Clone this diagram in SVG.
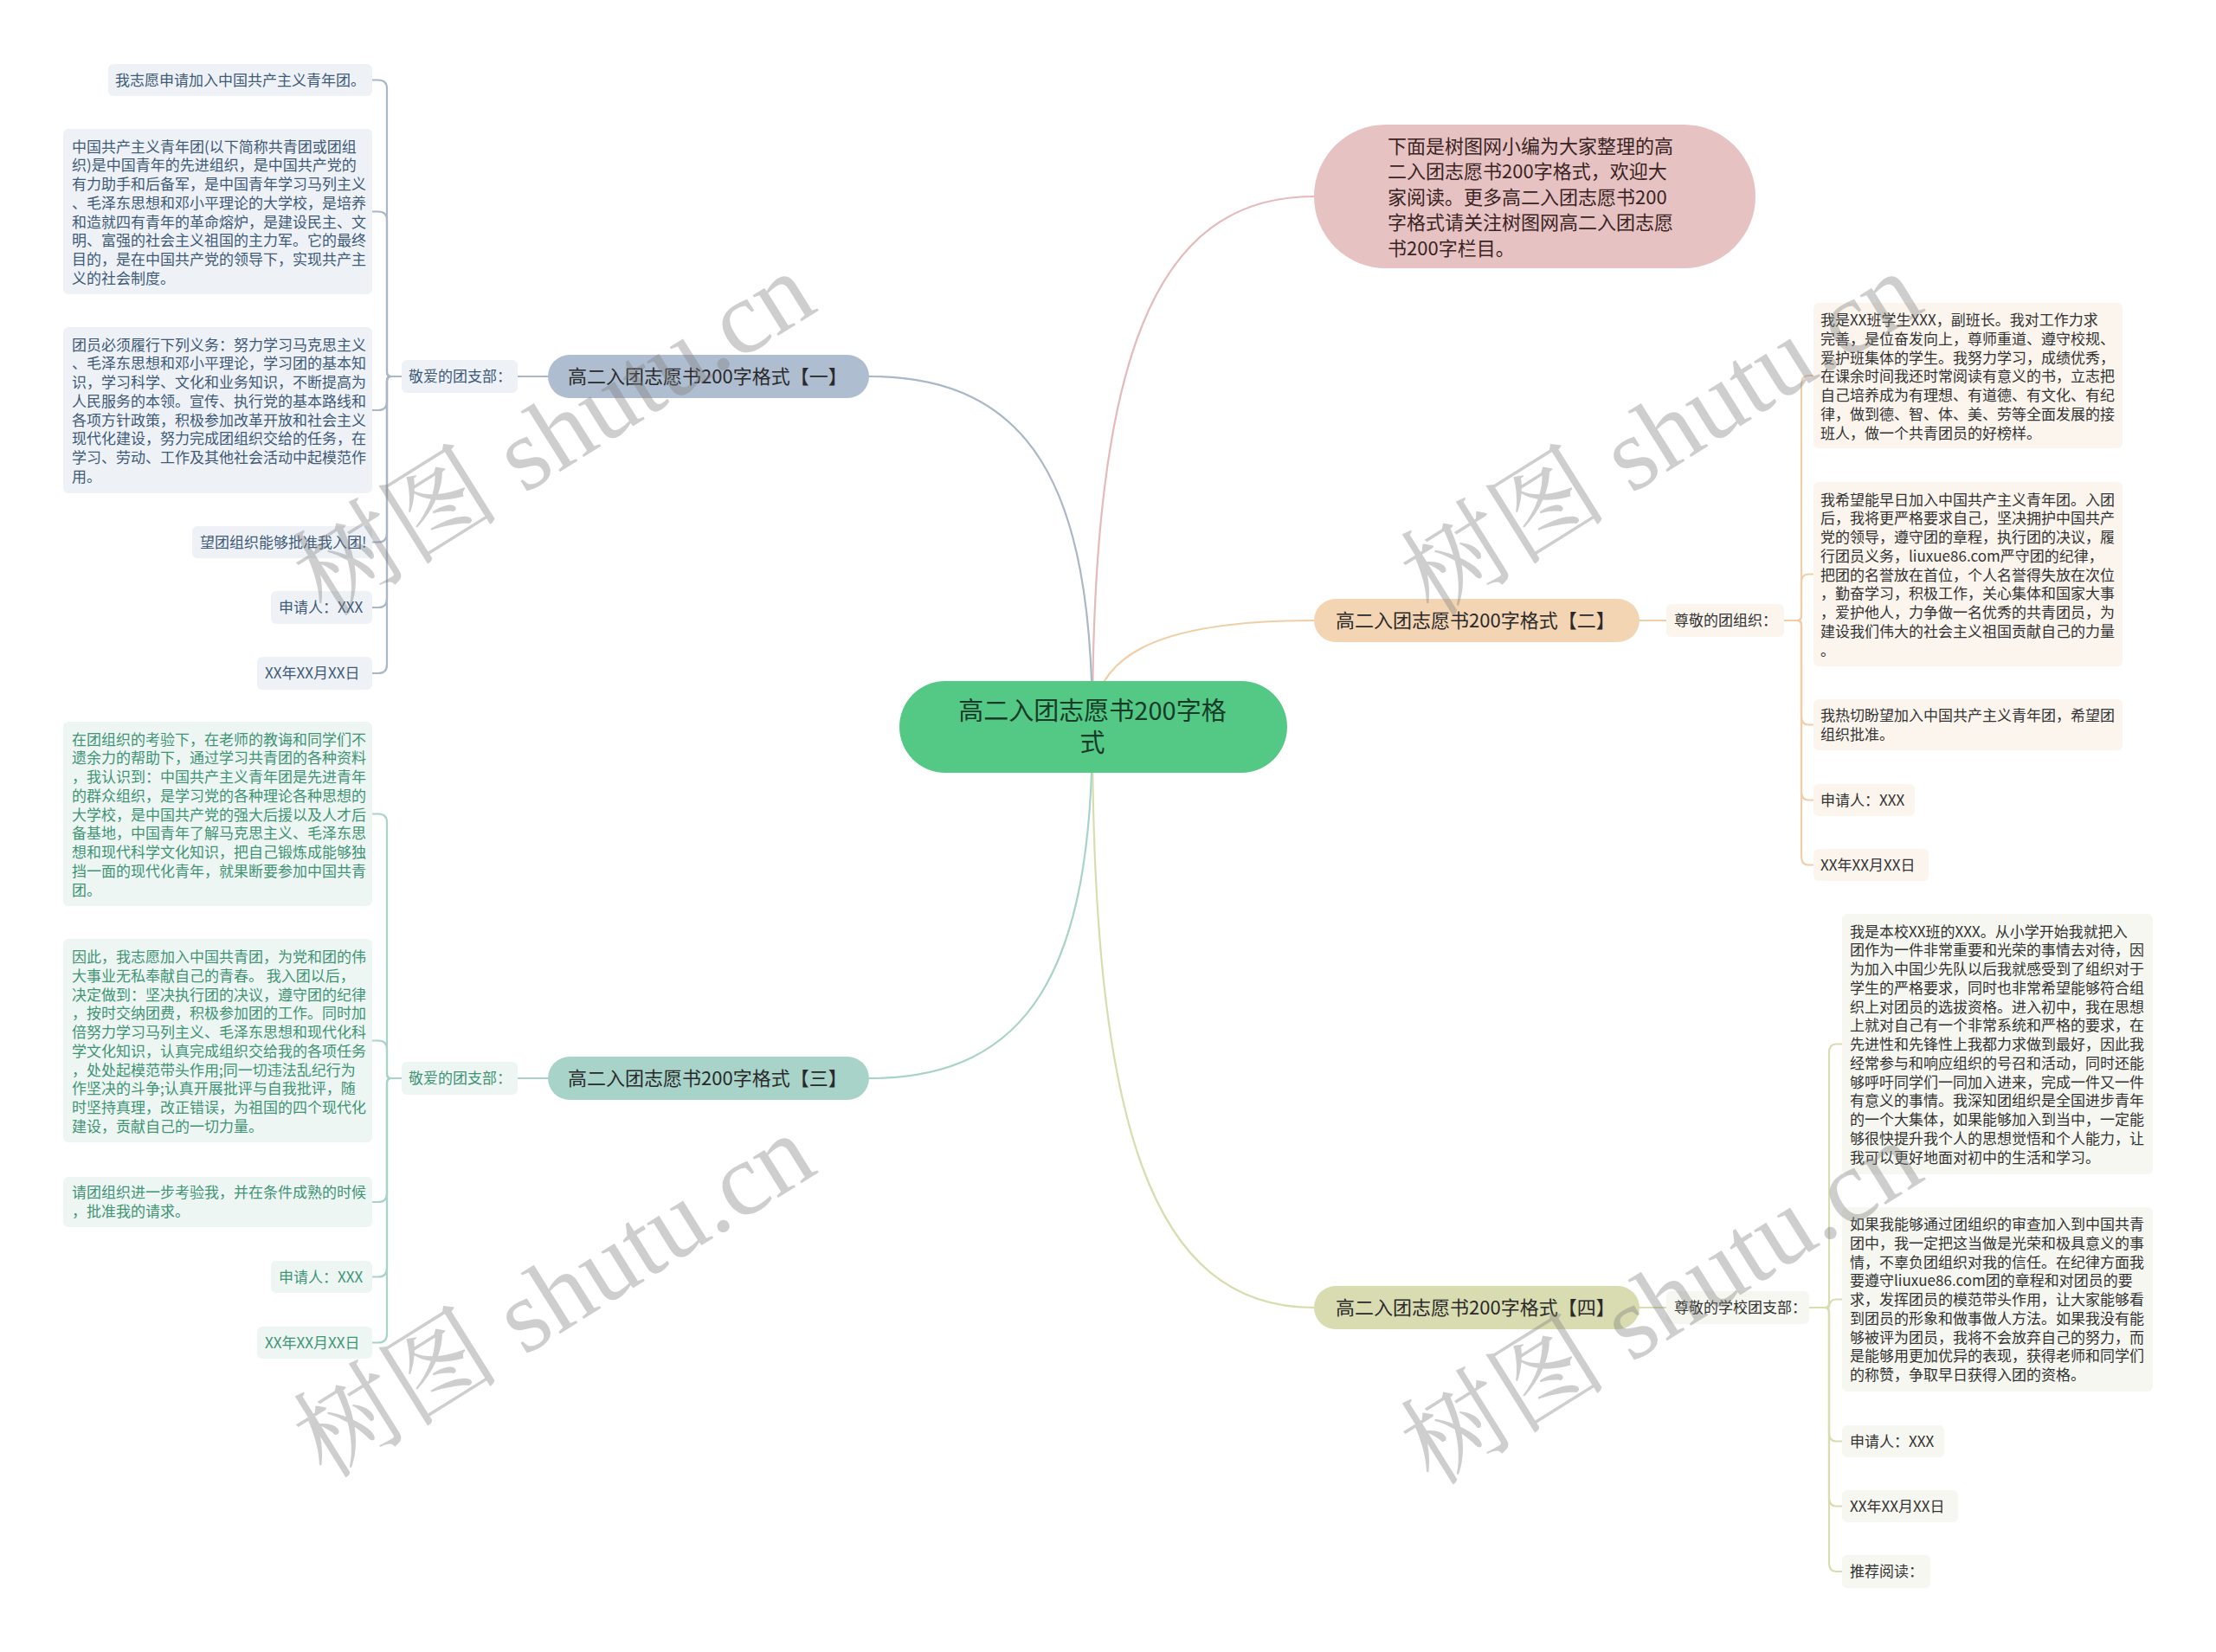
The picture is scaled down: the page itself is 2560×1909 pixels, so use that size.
<svg xmlns="http://www.w3.org/2000/svg" width="2560" height="1909" viewBox="0 0 2560 1909">
<style>
text { font-family: "Noto Sans CJK SC", "Noto Sans", sans-serif; }
.t17 { font-size: 17px; }
.c1 rect { fill: #eef2f6; } .c1 text { fill: #3e5a78; }
.c3 rect { fill: #eef6f4; } .c3 text { fill: #3f9474; }
.c2 rect { fill: #fbf5ee; } .c2 text { fill: #333333; }
.c4 rect { fill: #f6f7f0; } .c4 text { fill: #333333; }
.br text { font-size: 22px; fill: #2a2a2a; }
.ln { fill: none; stroke-width: 2.2; stroke-linecap: round; }
.wm { font-family: "Liberation Serif", "Noto Serif CJK SC", "Noto Sans CJK SC", serif; font-size: 120px; fill: #808080; opacity: 0.38; }
</style>
<rect width="2560" height="1909" fill="#ffffff"/>

<g id="connectors">
  <path class="ln" stroke="#e6baba" d="M1262 840 C1262 420 1330 227 1518 227"/>
  <path class="ln" stroke="#f0cfa8" d="M1262 840 C1262 760 1330 717 1518 717"/>
  <path class="ln" stroke="#d9dcae" d="M1262 840 C1262 1300 1330 1511 1518 1511"/>
  <path class="ln" stroke="#a9b7c7" d="M1262 840 C1262 560 1190 435 1004 435"/>
  <path class="ln" stroke="#a7d3c9" d="M1262 840 C1262 1120 1190 1246 1004 1246"/>
  <path class="ln" stroke="#a9b7c7" d="M633 435 H598"/>
  <path class="ln" stroke="#a7d3c9" d="M633 1246 H598"/>
  <path class="ln" stroke="#f0cfa8" d="M1894 717 H1925"/>
  <path class="ln" stroke="#d9dcae" d="M1894 1511 H1925"/>
  <g stroke="#a9b7c7">
    <path class="ln" d="M464 435 H452 Q447 435 447 430 V102.5 Q447 92.5 437 92.5 H430"/>
    <path class="ln" d="M464 435 H452 Q447 435 447 430 V254.5 Q447 244.5 437 244.5 H430"/>
    <path class="ln" d="M464 435 H452 Q447 435 447 440 V464 Q447 474 437 474 H430"/>
    <path class="ln" d="M464 435 H452 Q447 435 447 440 V616.5 Q447 626.5 437 626.5 H430"/>
    <path class="ln" d="M464 435 H452 Q447 435 447 440 V692 Q447 702 437 702 H430"/>
    <path class="ln" d="M464 435 H452 Q447 435 447 440 V768 Q447 778 437 778 H430"/>
  </g>
  <g stroke="#a7d3c9">
    <path class="ln" d="M464 1246 H452 Q447 1246 447 1241 V950.5 Q447 940.5 437 940.5 H430"/>
    <path class="ln" d="M464 1246 H452 Q447 1246 447 1241 V1212.5 Q447 1202.5 437 1202.5 H430"/>
    <path class="ln" d="M464 1246 H452 Q447 1246 447 1251 V1379 Q447 1389 437 1389 H430"/>
    <path class="ln" d="M464 1246 H452 Q447 1246 447 1251 V1465.5 Q447 1475.5 437 1475.5 H430"/>
    <path class="ln" d="M464 1246 H452 Q447 1246 447 1251 V1541.5 Q447 1551.5 437 1551.5 H430"/>
  </g>
  <g stroke="#f0cfa8">
    <path class="ln" d="M2061 717 H2076 Q2081 717 2081 712 V444 Q2081 434 2089 434 H2095"/>
    <path class="ln" d="M2061 717 H2076 Q2081 717 2081 712 V673.5 Q2081 663.5 2089 663.5 H2095"/>
    <path class="ln" d="M2061 717 H2076 Q2081 717 2081 722 V827.5 Q2081 837.5 2089 837.5 H2095"/>
    <path class="ln" d="M2061 717 H2076 Q2081 717 2081 722 V914.5 Q2081 924.5 2089 924.5 H2095"/>
    <path class="ln" d="M2061 717 H2076 Q2081 717 2081 722 V989.5 Q2081 999.5 2089 999.5 H2095"/>
  </g>
  <g stroke="#d9dcae">
    <path class="ln" d="M2090 1511 H2108 Q2113 1511 2113 1506 V1216.5 Q2113 1206.5 2121 1206.5 H2128"/>
    <path class="ln" d="M2090 1511 H2108 Q2113 1511 2113 1506 V1511.5 Q2113 1501.5 2121 1501.5 H2128"/>
    <path class="ln" d="M2090 1511 H2108 Q2113 1511 2113 1516 V1655.5 Q2113 1665.5 2121 1665.5 H2128"/>
    <path class="ln" d="M2090 1511 H2108 Q2113 1511 2113 1516 V1730.5 Q2113 1740.5 2121 1740.5 H2128"/>
    <path class="ln" d="M2090 1511 H2108 Q2113 1511 2113 1516 V1806 Q2113 1816 2121 1816 H2128"/>
  </g>
</g>

<g id="center">
  <rect x="1039" y="787" width="448" height="106" rx="53" fill="#54c986"/>
  <text x="1262" y="832" font-size="29" fill="#173b26" text-anchor="middle">高二入团志愿书200字格</text>
  <text x="1262" y="869" font-size="29" fill="#173b26" text-anchor="middle">式</text>
</g>

<g id="intro">
  <rect x="1518" y="144" width="510" height="166" rx="83" fill="#e6c2c2"/>
  <text font-size="22" fill="#3a2424">
    <tspan x="1603" y="176.5">下面是树图网小编为大家整理的高</tspan>
    <tspan x="1603" y="206">二入团志愿书200字格式，欢迎大</tspan>
    <tspan x="1603" y="235.5">家阅读。更多高二入团志愿书200</tspan>
    <tspan x="1603" y="265">字格式请关注树图网高二入团志愿</tspan>
    <tspan x="1603" y="294.5">书200字栏目。</tspan>
  </text>
</g>

<g id="branch1" class="br">
  <rect x="633" y="410" width="371" height="50" rx="25" fill="#aebdcf"/>
  <text x="656" y="443" fill="#1e2a38">高二入团志愿书200字格式【一】</text>
</g>
<g id="b1-label" class="c1 t17">
  <rect x="464" y="416" width="134" height="38" rx="6"/>
  <text x="472" y="441">敬爱的团支部：</text>
</g>
<g id="b1-n1" class="c1 t17">
  <rect x="125" y="74" width="305" height="37" rx="6"/>
  <text x="133" y="98.5">我志愿申请加入中国共产主义青年团。</text>
</g>
<g id="b1-n2" class="c1 t17">
  <rect x="73" y="149" width="357" height="191" rx="6"/>
  <text>
    <tspan x="83" y="175.5">中国共产主义青年团(以下简称共青团或团组</tspan>
    <tspan x="83" dy="21.75">织)是中国青年的先进组织，是中国共产党的</tspan>
    <tspan x="83" dy="21.75">有力助手和后备军，是中国青年学习马列主义</tspan>
    <tspan x="83" dy="21.75">、毛泽东思想和邓小平理论的大学校，是培养</tspan>
    <tspan x="83" dy="21.75">和造就四有青年的革命熔炉，是建设民主、文</tspan>
    <tspan x="83" dy="21.75">明、富强的社会主义祖国的主力军。它的最终</tspan>
    <tspan x="83" dy="21.75">目的，是在中国共产党的领导下，实现共产主</tspan>
    <tspan x="83" dy="21.75">义的社会制度。</tspan>
  </text>
</g>
<g id="b1-n3" class="c1 t17">
  <rect x="73" y="378" width="357" height="192" rx="6"/>
  <text>
    <tspan x="83" y="404.5">团员必须履行下列义务：努力学习马克思主义</tspan>
    <tspan x="83" dy="21.75">、毛泽东思想和邓小平理论，学习团的基本知</tspan>
    <tspan x="83" dy="21.75">识，学习科学、文化和业务知识，不断提高为</tspan>
    <tspan x="83" dy="21.75">人民服务的本领。宣传、执行党的基本路线和</tspan>
    <tspan x="83" dy="21.75">各项方针政策，积极参加改革开放和社会主义</tspan>
    <tspan x="83" dy="21.75">现代化建设，努力完成团组织交给的任务，在</tspan>
    <tspan x="83" dy="21.75">学习、劳动、工作及其他社会活动中起模范作</tspan>
    <tspan x="83" dy="21.75">用。</tspan>
  </text>
</g>
<g id="b1-n4" class="c1 t17">
  <rect x="222" y="608" width="208" height="37" rx="6"/>
  <text x="231" y="632.5">望团组织能够批准我入团!</text>
</g>
<g id="b1-n5" class="c1 t17">
  <rect x="313" y="683" width="117" height="38" rx="6"/>
  <text x="322" y="708">申请人：XXX</text>
</g>
<g id="b1-n6" class="c1 t17">
  <rect x="297" y="759" width="133" height="38" rx="6"/>
  <text x="306" y="784">XX年XX月XX日</text>
</g>

<g id="branch3" class="br">
  <rect x="633" y="1221" width="371" height="50" rx="25" fill="#a7d3c9"/>
  <text x="656" y="1254" fill="#1f3530">高二入团志愿书200字格式【三】</text>
</g>
<g id="b3-label" class="c3 t17">
  <rect x="464" y="1227" width="134" height="38" rx="6"/>
  <text x="472" y="1252">敬爱的团支部：</text>
</g>
<g id="b3-n1" class="c3 t17">
  <rect x="73" y="834" width="357" height="213" rx="6"/>
  <text>
    <tspan x="83" y="860.5">在团组织的考验下，在老师的教诲和同学们不</tspan>
    <tspan x="83" dy="21.75">遗余力的帮助下，通过学习共青团的各种资料</tspan>
    <tspan x="83" dy="21.75">，我认识到：中国共产主义青年团是先进青年</tspan>
    <tspan x="83" dy="21.75">的群众组织，是学习党的各种理论各种思想的</tspan>
    <tspan x="83" dy="21.75">大学校，是中国共产党的强大后援以及人才后</tspan>
    <tspan x="83" dy="21.75">备基地，中国青年了解马克思主义、毛泽东思</tspan>
    <tspan x="83" dy="21.75">想和现代科学文化知识，把自己锻炼成能够独</tspan>
    <tspan x="83" dy="21.75">挡一面的现代化青年，就果断要参加中国共青</tspan>
    <tspan x="83" dy="21.75">团。</tspan>
  </text>
</g>
<g id="b3-n2" class="c3 t17">
  <rect x="73" y="1085" width="357" height="235" rx="6"/>
  <text>
    <tspan x="83" y="1112">因此，我志愿加入中国共青团，为党和团的伟</tspan>
    <tspan x="83" dy="21.75">大事业无私奉献自己的青春。 我入团以后，</tspan>
    <tspan x="83" dy="21.75">决定做到：坚决执行团的决议，遵守团的纪律</tspan>
    <tspan x="83" dy="21.75">，按时交纳团费，积极参加团的工作。同时加</tspan>
    <tspan x="83" dy="21.75">倍努力学习马列主义、毛泽东思想和现代化科</tspan>
    <tspan x="83" dy="21.75">学文化知识，认真完成组织交给我的各项任务</tspan>
    <tspan x="83" dy="21.75">，处处起模范带头作用;同一切违法乱纪行为</tspan>
    <tspan x="83" dy="21.75">作坚决的斗争;认真开展批评与自我批评，随</tspan>
    <tspan x="83" dy="21.75">时坚持真理，改正错误，为祖国的四个现代化</tspan>
    <tspan x="83" dy="21.75">建设，贡献自己的一切力量。</tspan>
  </text>
</g>
<g id="b3-n3" class="c3 t17">
  <rect x="73" y="1360" width="357" height="58" rx="6"/>
  <text>
    <tspan x="83" y="1384">请团组织进一步考验我，并在条件成熟的时候</tspan>
    <tspan x="83" dy="21.75">，批准我的请求。</tspan>
  </text>
</g>
<g id="b3-n4" class="c3 t17">
  <rect x="313" y="1457" width="117" height="37" rx="6"/>
  <text x="322" y="1481.5">申请人：XXX</text>
</g>
<g id="b3-n5" class="c3 t17">
  <rect x="297" y="1533" width="133" height="37" rx="6"/>
  <text x="306" y="1557.5">XX年XX月XX日</text>
</g>

<g id="branch2" class="br">
  <rect x="1518" y="692" width="376" height="50" rx="25" fill="#f3d5b4"/>
  <text x="1543" y="725">高二入团志愿书200字格式【二】</text>
</g>
<g id="b2-label" class="c2 t17">
  <rect x="1925" y="698" width="136" height="38" rx="6"/>
  <text x="1934" y="723">尊敬的团组织：</text>
</g>
<g id="b2-n1" class="c2 t17">
  <rect x="2095" y="350" width="357" height="168" rx="6"/>
  <text>
    <tspan x="2103" y="376">我是XX班学生XXX，副班长。我对工作力求</tspan>
    <tspan x="2103" dy="21.75">完善，是位奋发向上，尊师重道、遵守校规、</tspan>
    <tspan x="2103" dy="21.75">爱护班集体的学生。我努力学习，成绩优秀，</tspan>
    <tspan x="2103" dy="21.75">在课余时间我还时常阅读有意义的书，立志把</tspan>
    <tspan x="2103" dy="21.75">自己培养成为有理想、有道德、有文化、有纪</tspan>
    <tspan x="2103" dy="21.75">律，做到德、智、体、美、劳等全面发展的接</tspan>
    <tspan x="2103" dy="21.75">班人，做一个共青团员的好榜样。</tspan>
  </text>
</g>
<g id="b2-n2" class="c2 t17">
  <rect x="2095" y="557" width="357" height="213" rx="6"/>
  <text>
    <tspan x="2103" y="583.5">我希望能早日加入中国共产主义青年团。入团</tspan>
    <tspan x="2103" dy="21.75">后，我将更严格要求自己，坚决拥护中国共产</tspan>
    <tspan x="2103" dy="21.75">党的领导，遵守团的章程，执行团的决议，履</tspan>
    <tspan x="2103" dy="21.75">行团员义务，liuxue86.com严守团的纪律，</tspan>
    <tspan x="2103" dy="21.75">把团的名誉放在首位，个人名誉得失放在次位</tspan>
    <tspan x="2103" dy="21.75">，勤奋学习，积极工作，关心集体和国家大事</tspan>
    <tspan x="2103" dy="21.75">，爱护他人，力争做一名优秀的共青团员，为</tspan>
    <tspan x="2103" dy="21.75">建设我们伟大的社会主义祖国贡献自己的力量</tspan>
    <tspan x="2103" dy="21.75">。</tspan>
  </text>
</g>
<g id="b2-n3" class="c2 t17">
  <rect x="2095" y="808" width="357" height="59" rx="6"/>
  <text>
    <tspan x="2103" y="833">我热切盼望加入中国共产主义青年团，希望团</tspan>
    <tspan x="2103" dy="21.75">组织批准。</tspan>
  </text>
</g>
<g id="b2-n4" class="c2 t17">
  <rect x="2095" y="906" width="117" height="37" rx="6"/>
  <text x="2103" y="930.5">申请人：XXX</text>
</g>
<g id="b2-n5" class="c2 t17">
  <rect x="2095" y="981" width="133" height="37" rx="6"/>
  <text x="2103" y="1005.5">XX年XX月XX日</text>
</g>

<g id="branch4" class="br">
  <rect x="1518" y="1486" width="376" height="50" rx="25" fill="#d8dcb0"/>
  <text x="1543" y="1519">高二入团志愿书200字格式【四】</text>
</g>
<g id="b4-label" class="c4 t17">
  <rect x="1925" y="1492" width="165" height="38" rx="6"/>
  <text x="1934" y="1517">尊敬的学校团支部：</text>
</g>
<g id="b4-n1" class="c4 t17">
  <rect x="2128" y="1056" width="359" height="301" rx="6"/>
  <text>
    <tspan x="2137" y="1082.7">我是本校XX班的XXX。从小学开始我就把入</tspan>
    <tspan x="2137" dy="21.75">团作为一件非常重要和光荣的事情去对待，因</tspan>
    <tspan x="2137" dy="21.75">为加入中国少先队以后我就感受到了组织对于</tspan>
    <tspan x="2137" dy="21.75">学生的严格要求，同时也非常希望能够符合组</tspan>
    <tspan x="2137" dy="21.75">织上对团员的选拔资格。进入初中，我在思想</tspan>
    <tspan x="2137" dy="21.75">上就对自己有一个非常系统和严格的要求，在</tspan>
    <tspan x="2137" dy="21.75">先进性和先锋性上我都力求做到最好，因此我</tspan>
    <tspan x="2137" dy="21.75">经常参与和响应组织的号召和活动，同时还能</tspan>
    <tspan x="2137" dy="21.75">够呼吁同学们一同加入进来，完成一件又一件</tspan>
    <tspan x="2137" dy="21.75">有意义的事情。我深知团组织是全国进步青年</tspan>
    <tspan x="2137" dy="21.75">的一个大集体，如果能够加入到当中，一定能</tspan>
    <tspan x="2137" dy="21.75">够很快提升我个人的思想觉悟和个人能力，让</tspan>
    <tspan x="2137" dy="21.75">我可以更好地面对初中的生活和学习。</tspan>
  </text>
</g>
<g id="b4-n2" class="c4 t17">
  <rect x="2128" y="1395" width="359" height="213" rx="6"/>
  <text>
    <tspan x="2137" y="1421">如果我能够通过团组织的审查加入到中国共青</tspan>
    <tspan x="2137" dy="21.75">团中，我一定把这当做是光荣和极具意义的事</tspan>
    <tspan x="2137" dy="21.75">情，不辜负团组织对我的信任。在纪律方面我</tspan>
    <tspan x="2137" dy="21.75">要遵守liuxue86.com团的章程和对团员的要</tspan>
    <tspan x="2137" dy="21.75">求，发挥团员的模范带头作用，让大家能够看</tspan>
    <tspan x="2137" dy="21.75">到团员的形象和做事做人方法。如果我没有能</tspan>
    <tspan x="2137" dy="21.75">够被评为团员，我将不会放弃自己的努力，而</tspan>
    <tspan x="2137" dy="21.75">是能够用更加优异的表现，获得老师和同学们</tspan>
    <tspan x="2137" dy="21.75">的称赞，争取早日获得入团的资格。</tspan>
  </text>
</g>
<g id="b4-n3" class="c4 t17">
  <rect x="2128" y="1647" width="118" height="37" rx="6"/>
  <text x="2137" y="1671.5">申请人：XXX</text>
</g>
<g id="b4-n4" class="c4 t17">
  <rect x="2128" y="1722" width="134" height="37" rx="6"/>
  <text x="2137" y="1746.5">XX年XX月XX日</text>
</g>
<g id="b4-n5" class="c4 t17">
  <rect x="2128" y="1797" width="102" height="38" rx="6"/>
  <text x="2137" y="1822">推荐阅读：</text>
</g>

<g id="watermarks">
  <text class="wm" x="648" y="540" text-anchor="middle" transform="rotate(-32 648 514)">树图 shutu.cn</text>
  <text class="wm" x="1927" y="540" text-anchor="middle" transform="rotate(-32 1927 514)">树图 shutu.cn</text>
  <text class="wm" x="648" y="1536" text-anchor="middle" transform="rotate(-32 648 1510)">树图 shutu.cn</text>
  <text class="wm" x="1927" y="1544" text-anchor="middle" transform="rotate(-32 1927 1518)">树图 shutu.cn</text>
</g>
</svg>
